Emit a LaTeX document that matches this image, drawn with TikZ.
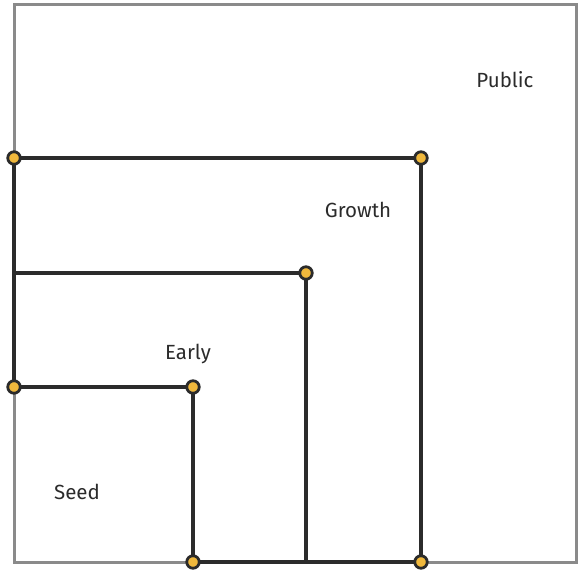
\documentclass[tikz,border=0pt]{standalone}
\usepackage{fontspec}
\setmainfont{Fira Sans}
\definecolor{frame}{HTML}{8A8A8A}
\definecolor{ink}{HTML}{2B2B2B}
\definecolor{dotfill}{HTML}{F0B83C}
\begin{document}
\begin{tikzpicture}[x=1pt,y=-1pt,
  outer/.style={draw=frame,line width=3pt},
  edge/.style={draw=ink,line width=3.2pt},
  corner/.style={circle,draw=ink,fill=dotfill,line width=2.8pt,minimum size=12.5pt,inner sep=0pt},
  lbl/.style={text=ink,font=\fontsize{20.5}{22}\selectfont,anchor=center}]
\useasboundingbox (0,0) rectangle (579,573);
\draw[outer] (14,4) rectangle (576,562);
\coordinate (c1) at (14,158);
\coordinate (c2) at (421,158);
\coordinate (c3) at (421,562);
\coordinate (c4) at (14,273);
\coordinate (c5) at (306,273);
\coordinate (c6) at (306,562);
\coordinate (c7) at (14,387);
\coordinate (c8) at (193,387);
\coordinate (c9) at (193,562);
\draw[edge] (c1) -- (c2) -- (c3) -- (c9) -- (c8) -- (c7) -- (c1);
\draw[edge] (c4) -- (c5) -- (c6);
\node[corner] (d1) at (c1) {};
\node[corner] (d2) at (c2) {};
\node[corner] (d3) at (c5) {};
\node[corner] (d4) at (c7) {};
\node[corner] (d5) at (c8) {};
\node[corner] (d6) at (c9) {};
\node[corner] (d7) at (c3) {};
\node[lbl] (public) at (505,80) {Public};
\node[lbl] (growth) at (358,210) {Growth};
\node[lbl] (early) at (188,354) {Early};
\node[lbl] (seed) at (77,492) {Seed};
\end{tikzpicture}
\end{document}
